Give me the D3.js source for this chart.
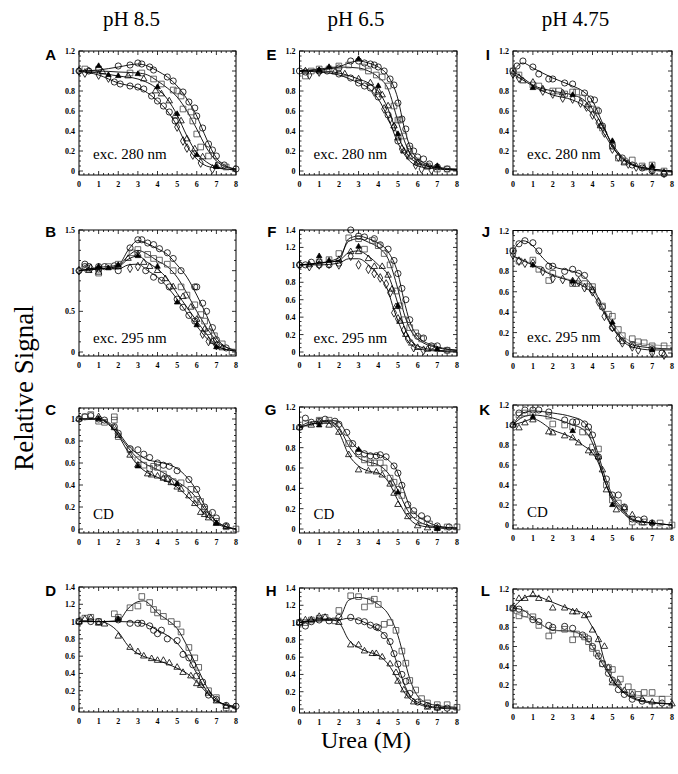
<!DOCTYPE html>
<html><head><meta charset="utf-8">
<script src="https://cdn.jsdelivr.net/npm/d3@7"></script>
<style>body{margin:0;background:#fff}</style>
</head><body><svg id="c" width="678" height="774"></svg>
<script>
// ---------- shared labels / ticks ----------
const panelIds = ["A","B","C","D","E","F","G","H","I","J","K","L"];
const phLabels = ["pH 8.5","pH 6.5","pH 4.75"];
const xTicks = [0,1,2,3,4,5,6,7,8];
const yTicks12 = [0,0.2,0.4,0.6,0.8,1,1.2];
const yTicks14 = [0,0.2,0.4,0.6,0.8,1,1.2,1.4];
const yTicks15 = [0,0.5,1,1.5];
const yTicks10 = [0,0.2,0.4,0.6,0.8,1];
const noteLabels = ["exc. 280 nm","exc. 295 nm","CD"];
const xTitle = "Urea (M)";
const yTitle = "Relative Signal";

// ---------- Panel A (pH 8.5, exc 280) ----------
const A_circ = [[0,1.0],[0.5,1.0],[1,1.02],[2,1.05],[2.6,1.06],[3,1.08],[3.2,1.07],[3.6,1.04],[3.8,1.01],[4.5,0.94],[4.8,0.9],[5.3,0.79],[5.6,0.69],[5.9,0.63],[6.0,0.55],[6.3,0.43],[6.6,0.27],[6.8,0.21],[7.0,0.15],[7.4,0.06],[8,0.02]];
const A_circ_fit = [[0,1.0],[1,1.01],[2,1.04],[3,1.07],[3.5,1.05],[4,1.0],[4.5,0.94],[5,0.85],[5.5,0.72],[6,0.55],[6.5,0.32],[7,0.13],[7.5,0.05],[8,0.02]];
const A_sq = [[0.3,1.02],[1,1.02],[2.6,0.98],[3.2,0.98],[3.8,0.92],[4.2,0.87],[4.8,0.81],[5.0,0.8],[5.2,0.75],[5.3,0.62],[5.7,0.59],[5.8,0.5],[6.0,0.37],[6.2,0.24],[6.6,0.15],[7.1,0.06],[7.5,0.04]];
const A_sq_fit = [[0,1.0],[1,1.0],[2,0.99],[3,0.98],[3.5,0.96],[4,0.9],[4.5,0.83],[5,0.74],[5.5,0.6],[6,0.42],[6.5,0.23],[7,0.1],[7.5,0.04],[8,0.02]];
const A_triF = [[1,1.05],[1.5,0.96],[2,0.95],[3,0.97],[4,0.84],[5,0.57],[6,0.16],[7,0.04]];
const A_tri = [[0.5,1.0],[1.2,0.99],[2.5,0.95],[3.3,0.92],[3.9,0.8],[4.2,0.77],[4.6,0.7],[4.9,0.55],[5.2,0.5],[5.5,0.32],[5.9,0.22],[6.3,0.14],[7.0,0.05]];
const A_tri_fit = [[0,1.0],[1,0.98],[2,0.95],[3,0.92],[4,0.82],[4.5,0.72],[5,0.56],[5.5,0.35],[6,0.18],[6.5,0.09],[7,0.04],[8,0.01]];
const A_lowC = [[1.8,0.89],[2.1,0.87],[2.6,0.85],[3.0,0.84],[3.3,0.82],[3.7,0.75],[4.0,0.7],[4.3,0.65],[4.6,0.59],[4.9,0.5]];
const A_dia = [[0,1.0],[0.3,0.98],[1,0.96],[1.5,0.93],[5.0,0.44],[5.3,0.3],[5.5,0.23],[5.8,0.16],[6.2,0.08],[6.8,0.02]];
const A_low_fit = [[0,1.0],[1,0.96],[2,0.88],[3,0.83],[3.5,0.78],[4,0.7],[4.5,0.6],[5,0.45],[5.5,0.25],[6,0.12],[6.5,0.05],[7,0.03],[8,0.01]];

// ---------- Panel B (pH 8.5, exc 295) ----------
const B_circ = [[0,1.0],[0.3,1.05],[0.5,1.05],[1,1.05],[1.3,1.05],[1.8,1.06],[2.6,1.28],[3,1.38],[3.2,1.38],[3.5,1.34],[3.8,1.32],[4.1,1.27],[4.5,1.22],[4.8,1.15],[5.2,1.0],[5.9,0.8],[6.0,0.8],[6.3,0.6],[6.5,0.5],[6.8,0.3],[7.0,0.15],[7.5,0.05]];
const B_circ_fit = [[0,1.0],[1,1.04],[2,1.07],[2.5,1.25],[3,1.37],[3.5,1.33],[4,1.27],[4.5,1.2],[5,1.07],[5.5,0.92],[6,0.7],[6.5,0.45],[7,0.18],[7.5,0.06],[8,0.02]];
const B_sq = [[0.4,1.03],[1,0.97],[1.5,1.05],[2.0,1.08],[2.7,1.22],[3.0,1.26],[3.5,1.2],[3.8,1.15],[4.1,1.13],[4.5,1.08],[4.8,1.0],[5.2,0.8],[5.5,0.7],[5.9,0.58],[6.2,0.46],[6.4,0.38],[6.6,0.25],[6.9,0.2],[7.3,0.1],[7.8,0.0]];
const B_sq_fit = [[0,1],[1,1.02],[2,1.06],[2.5,1.18],[3,1.25],[3.5,1.2],[4,1.12],[4.5,1.05],[5,0.92],[5.5,0.72],[6,0.5],[6.5,0.3],[7,0.14],[8,0.02]];
const B_triF = [[1,1.05],[1.5,1.03],[2,1.07],[3,1.18],[4,1.05],[5,0.61],[6,0.33],[7,0.06]];
const B_tri = [[0.5,1.0],[1,0.98],[2,1.05],[2.5,1.15],[3,1.2],[3.3,1.1],[3.6,1.05],[4.0,1.0],[4.4,0.9],[4.8,0.8],[5.3,0.68],[5.7,0.55],[6,0.4],[6.4,0.28],[6.8,0.13],[7.3,0.05]];
const B_tri_fit = [[0,1],[1,1.02],[2,1.05],[2.5,1.14],[3,1.18],[3.5,1.1],[4,1.02],[4.5,0.9],[5,0.72],[5.5,0.55],[6,0.38],[6.5,0.22],[7,0.08],[8,0.01]];
const B_lowC = [[0.3,1.08],[1,1.02],[2,1.0],[3.4,1.0],[3.8,0.92],[4.2,0.88],[4.6,0.8],[5,0.65],[5.3,0.55],[5.6,0.45],[5.9,0.38]];
const B_dia = [[0,1.0],[0.6,1.03],[2.6,1.03],[3.0,1.05],[6.3,0.22],[6.6,0.13],[7.0,0.08]];
const B_low_fit = [[0,1],[1,1.03],[2,1.02],[2.5,1.07],[3,1.08],[3.5,1.0],[4,0.92],[4.5,0.8],[5,0.65],[5.5,0.48],[6,0.32],[6.5,0.17],[7,0.07],[8,0.01]];

// ---------- Panel C (pH 8.5, CD) ----------
const C_circ = [[0,1],[0.3,1.02],[0.6,1.03],[1,1.0],[1.3,0.99],[1.8,0.93],[2,0.87],[2.6,0.73],[3,0.72],[3.3,0.68],[3.6,0.65],[4,0.6],[4.3,0.58],[4.6,0.57],[5,0.53],[5.6,0.45],[6,0.36],[6.4,0.2],[6.8,0.15],[7,0.1],[7.5,0.03]];
const C_circ_fit = [[0,1],[1,1.0],[1.5,0.97],[2,0.88],[2.5,0.76],[3,0.68],[3.5,0.63],[4,0.61],[4.5,0.59],[5,0.55],[5.5,0.47],[6,0.35],[6.5,0.18],[7,0.07],[7.5,0.02],[8,0]];
const C_sq = [[0.3,1.02],[0.6,1.04],[1,0.98],[1.3,0.97],[1.8,1.02],[1.8,0.99],[2,0.84],[2.6,0.72],[3,0.63],[3.3,0.58],[3.6,0.55],[3.8,0.57],[4,0.56],[4.3,0.5],[4.5,0.46],[4.8,0.43],[5.2,0.42],[5.7,0.36],[6,0.27],[6.2,0.25],[6.4,0.18],[6.6,0.13],[7,0.07],[7.5,0.02],[8,0.0]];
const C_sq_fit = [[0,1],[1,1.0],[1.5,0.96],[2,0.86],[2.5,0.74],[3,0.64],[3.5,0.58],[4,0.54],[4.5,0.49],[5,0.43],[5.5,0.37],[6,0.28],[6.5,0.16],[7,0.07],[8,0]];
const C_triF = [[1,1.0],[3,0.57],[5,0.41],[7,0.05]];
const C_tri = [[0,1],[1,1.02],[1.8,0.92],[2,0.85],[2.6,0.67],[3,0.58],[3.5,0.5],[3.7,0.49],[4,0.48],[4.3,0.46],[4.5,0.45],[4.7,0.42],[5,0.38],[5.2,0.36],[5.6,0.3],[5.9,0.23],[6.2,0.15],[6.4,0.13],[6.6,0.1],[7,0.05],[7.5,0.02]];
const C_tri_fit = [[0,1],[1,1.0],[1.5,0.95],[2,0.85],[2.5,0.7],[3,0.58],[3.5,0.51],[4,0.47],[4.5,0.43],[5,0.38],[5.5,0.3],[6,0.21],[6.5,0.12],[7,0.05],[8,0]];

// ---------- Panel D (pH 8.5) ----------
const D_sq = [[0,1],[0.3,1.04],[0.6,1.05],[1,1.0],[1.8,1.09],[2.0,1.05],[2.6,1.16],[3.0,1.18],[3.2,1.29],[3.6,1.22],[3.8,1.14],[4,1.1],[4.3,1.06],[4.7,1.0],[5,0.97],[5.2,0.88],[5.6,0.7],[5.9,0.58],[6.1,0.47],[6.6,0.2],[7,0.12],[7.5,0.0]];
const D_sq_fit = [[0,1],[1,1.0],[2,1.01],[2.5,1.15],[3,1.23],[3.3,1.24],[3.6,1.2],[4,1.1],[4.5,1.02],[5,0.92],[5.5,0.72],[6,0.48],[6.5,0.25],[7,0.1],[7.5,0.03],[8,0]];
const D_circ = [[0,1],[0.6,1.0],[1,1.0],[2,1.02],[2.6,0.98],[3,0.98],[3.2,0.98],[3.6,0.95],[3.8,0.9],[4,0.86],[4.2,0.9],[4.5,0.8],[5,0.78],[5.3,0.62],[5.6,0.58],[5.8,0.5],[6,0.37],[6.3,0.3],[6.6,0.15],[7,0.1],[7.5,0.03],[8,0.02]];
const D_circ_fit = [[0,1],[1,1.0],[2,1.0],[3,0.99],[3.5,0.96],[4,0.9],[4.5,0.84],[5,0.75],[5.5,0.6],[6,0.4],[6.5,0.2],[7,0.08],[8,0.02]];
const D_triF = [[2,1.03]];
const D_tri = [[0,1],[0.3,1.03],[0.6,1.04],[1,0.98],[1.3,0.97],[2,0.83],[2.6,0.7],[3,0.65],[3.3,0.6],[3.7,0.57],[4,0.55],[4.3,0.55],[4.6,0.52],[5,0.47],[5.3,0.41],[5.7,0.37],[6,0.28],[6.2,0.26],[6.6,0.17],[7,0.08],[7.5,0.02]];
const D_tri_fit = [[0,1],[1,1.0],[1.5,0.97],[2,0.88],[2.5,0.72],[3,0.63],[3.5,0.58],[4,0.55],[4.5,0.51],[5,0.46],[5.5,0.4],[6,0.3],[6.5,0.18],[7,0.08],[8,0.01]];

// ---------- Panel E (pH 6.5, exc 280) ----------
const E_circ = [[0,1.0],[0.3,0.99],[1,1.0],[1.4,1.0],[2,1.03],[2.6,1.1],[3.0,1.1],[3.3,1.08],[3.6,1.07],[3.8,1.06],[4.0,1.04],[4.3,1.0],[4.6,0.92],[4.8,0.86],[5.0,0.68],[5.2,0.52],[5.4,0.42],[5.6,0.25],[5.8,0.2],[6.0,0.14],[6.3,0.12],[6.6,0.07],[7.0,0.04],[7.5,0.02]];
const E_circ_fit = [[0,1],[1,1.01],[2,1.04],[2.5,1.08],[3,1.1],[3.5,1.08],[4,1.04],[4.5,0.95],[5,0.72],[5.3,0.45],[5.6,0.25],[6,0.12],[7,0.04],[8,0.02]];
const E_sq = [[0.3,0.95],[0.6,1.0],[1,1.02],[1.5,1.02],[2,1.05],[2.5,1.06],[3.2,1.04],[3.5,1.0],[3.9,0.96],[4.2,0.94],[4.5,0.85],[4.8,0.65],[5,0.51],[5.1,0.51],[5.3,0.35],[5.6,0.22],[6.0,0.1],[6.5,0.05],[7,0.02],[7.5,0.02]];
const E_sq_fit = [[0,1],[1,1.02],[2,1.04],[3,1.03],[3.5,1.0],[4,0.94],[4.5,0.82],[5,0.5],[5.5,0.22],[6,0.1],[7,0.03],[8,0.01]];
const E_triF = [[1,1.01],[1.5,1.04],[3,1.12],[4,0.85],[5,0.37],[7,0.05]];
const E_tri = [[0.3,1.0],[1,1.0],[1.8,0.99],[2.3,0.97],[3.0,0.92],[3.6,0.88],[4.0,0.8],[4.2,0.76],[4.5,0.65],[4.8,0.45],[5,0.33],[5.3,0.2],[5.6,0.14],[6,0.08],[6.5,0.04]];
const E_tri_fit = [[0,1],[1,1.0],[2,0.98],[3,0.92],[3.5,0.88],[4,0.8],[4.5,0.62],[5,0.35],[5.5,0.16],[6,0.08],[7,0.03],[8,0.01]];
const E_lowC = [[2,0.97],[2.6,0.93],[3.0,0.88],[3.3,0.85],[3.6,0.83],[4.0,0.74],[4.5,0.56],[5.0,0.3]];
const E_dia = [[0.5,0.96],[1,0.99],[3.8,0.79],[4.3,0.62],[4.6,0.52],[4.8,0.44],[5.2,0.22],[5.5,0.17],[5.9,0.06],[6.2,0.02],[6.7,0.01]];
const E_low_fit = [[0,1],[1,0.99],[2,0.96],[3,0.88],[3.5,0.83],[4,0.72],[4.5,0.53],[5,0.28],[5.5,0.12],[6,0.05],[7,0.02],[8,0.01]];

// ---------- Panel F (pH 6.5, exc 295) ----------
const F_circ = [[0,1],[0.3,1.0],[0.6,1.03],[1,1.0],[1.5,1.0],[2,1.02],[2.6,1.4],[3,1.33],[3.3,1.32],[3.8,1.3],[4.1,1.23],[4.5,1.18],[4.8,1.05],[5,0.9],[5.2,0.73],[5.4,0.6],[5.6,0.37],[6,0.18],[6.3,0.16],[6.7,0.07],[7.0,0.07],[7.5,0.02]];
const F_circ_fit = [[0,1],[1,1.02],[2,1.05],[2.5,1.3],[3,1.33],[3.5,1.3],[4,1.25],[4.5,1.15],[5,0.9],[5.3,0.6],[5.6,0.35],[6,0.18],[6.5,0.1],[7,0.06],[8,0.02]];
const F_sq = [[1,1.03],[1.5,1.06],[2.0,1.13],[2.5,1.31],[3.0,1.3],[3.3,1.18],[3.7,1.28],[4.0,1.22],[4.3,1.13],[4.6,1.0],[4.9,0.7],[5.1,0.53],[5.3,0.37],[5.6,0.28],[5.9,0.22],[6.2,0.15],[6.8,0.06],[7.5,0.02]];
const F_sq_fit = [[0,1],[1,1.02],[2,1.08],[2.5,1.27],[3,1.3],[3.5,1.26],[4,1.2],[4.5,1.07],[5,0.72],[5.3,0.45],[5.6,0.27],[6,0.15],[7,0.05],[8,0.02]];
const F_triF = [[1,1.1],[1.5,1.05],[3,1.21],[5,0.53],[7,0.03]];
const F_tri = [[0.5,1.0],[1,1.05],[2,1.06],[2.6,1.15],[3,1.15],[3.5,1.07],[3.8,0.98],[4.2,0.98],[4.5,0.88],[4.7,0.72],[4.9,0.52],[5.1,0.35],[5.4,0.2],[5.7,0.1],[6,0.05],[6.5,0.03]];
const F_tri_fit = [[0,1],[1,1.02],[2,1.05],[2.5,1.14],[3,1.16],[3.5,1.1],[4,1.0],[4.5,0.88],[5,0.55],[5.3,0.3],[5.6,0.15],[6,0.07],[7,0.02],[8,0.01]];
const F_dia = [[0,1],[0.5,0.98],[1,1.0],[1.5,1.01],[2,1.0],[2.6,1.1],[3,1.0],[3.5,0.95],[3.8,0.9],[4.1,0.85],[4.4,0.78],[4.6,0.68],[4.8,0.45],[5.0,0.38],[5.3,0.25],[5.5,0.15],[5.8,0.05],[6.3,0.02]];
const F_dia_fit = [[0,1],[1,1.0],[2,1.02],[2.5,1.07],[3,1.07],[3.5,1.0],[4,0.88],[4.5,0.7],[4.8,0.48],[5,0.36],[5.3,0.2],[5.6,0.1],[6,0.04],[7,0.01],[8,0.0]];

// ---------- Panel G (pH 6.5, CD) ----------
const G_circ = [[0,1],[0.3,1.09],[0.6,1.05],[1,1.06],[1.3,1.08],[1.8,1.06],[2,1.03],[2.4,0.95],[2.7,0.84],[3,0.76],[3.3,0.74],[3.6,0.72],[3.9,0.72],[4.1,0.73],[4.4,0.71],[4.8,0.62],[5,0.55],[5.2,0.43],[5.5,0.24],[5.8,0.18],[6.2,0.13],[6.5,0.1],[7,0.03],[7.6,0.02]];
const G_circ_fit = [[0,1],[0.5,1.05],[1,1.06],[1.5,1.07],[2,1.05],[2.5,0.9],[3,0.78],[3.5,0.74],[4,0.73],[4.5,0.68],[5,0.55],[5.3,0.38],[5.6,0.22],[6,0.13],[6.5,0.07],[7,0.03],[8,0.01]];
const G_sq = [[0.3,1.04],[1,1.07],[1.5,1.07],[1.8,1.04],[2.5,0.84],[3,0.74],[3.3,0.68],[3.6,0.65],[3.8,0.65],[4.1,0.65],[4.3,0.6],[4.6,0.5],[4.8,0.46],[5.0,0.39],[5.2,0.33],[5.5,0.18],[5.8,0.14],[6.2,0.08],[6.6,0.05],[7.5,0.02],[8,0.02]];
const G_sq_fit = [[0,1],[1,1.05],[1.5,1.06],[2,1.0],[2.5,0.82],[3,0.7],[3.5,0.66],[4,0.63],[4.5,0.55],[5,0.38],[5.5,0.18],[6,0.08],[7,0.02],[8,0.01]];
const G_triF = [[1,1.02],[3,0.78],[5,0.36],[7,0.0]];
const G_tri = [[0,1],[0.6,1.02],[1,1.05],[1.5,1.02],[2,0.95],[2.5,0.73],[3,0.58],[3.5,0.57],[3.9,0.56],[4.2,0.53],[4.6,0.44],[4.8,0.35],[5,0.24],[5.5,0.12],[6,0.03],[6.5,0.01],[7,0.01]];
const G_tri_fit = [[0,1],[1,1.04],[1.5,1.04],[2,0.95],[2.5,0.73],[3,0.62],[3.5,0.57],[4,0.55],[4.5,0.47],[5,0.28],[5.5,0.12],[6,0.04],[7,0.01],[8,0]];

// ---------- Panel H (pH 6.5) ----------
const H_sq = [[0,1],[0.3,1.0],[0.6,1.03],[1,1.05],[1.3,1.06],[1.8,1.02],[2.0,1.14],[2.6,1.31],[3,1.3],[3.3,1.18],[3.6,1.25],[3.8,1.27],[4.0,1.21],[4.3,0.98],[4.6,1.0],[4.9,0.91],[5.2,0.67],[5.4,0.53],[5.6,0.33],[5.9,0.22],[6.2,0.12],[6.5,0.07],[7,0.05],[7.5,0.05],[8,0.02]];
const H_sq_fit = [[0,1],[1,1.03],[2,1.05],[2.5,1.26],[3,1.29],[3.5,1.27],[4,1.21],[4.5,1.1],[5,0.85],[5.3,0.6],[5.6,0.35],[6,0.15],[6.5,0.07],[7,0.04],[8,0.02]];
const H_circ = [[0,1],[0.3,0.96],[0.6,1.01],[1,1.03],[1.5,1.02],[2,1.06],[2.6,1.06],[3,1.02],[3.3,1.01],[3.6,0.97],[3.9,0.95],[4,0.94],[4.3,0.85],[4.6,0.78],[4.8,0.64],[5,0.52],[5.2,0.4],[5.4,0.32],[5.6,0.18],[6,0.08],[6.5,0.04],[7,0.02],[7.5,0.01]];
const H_circ_fit = [[0,1],[1,1.02],[2,1.03],[2.5,1.05],[3,1.03],[3.5,0.98],[4,0.92],[4.5,0.8],[5,0.5],[5.3,0.3],[5.6,0.16],[6,0.08],[7,0.02],[8,0.01]];
const H_tri = [[0,1],[0.3,1.03],[0.6,1.03],[1,1.07],[1.3,1.06],[2,1.0],[2.6,0.74],[3,0.74],[3.3,0.67],[3.7,0.64],[3.9,0.64],[4.2,0.6],[4.6,0.52],[4.9,0.42],[5,0.32],[5.3,0.22],[5.5,0.15],[5.8,0.08],[6.5,0.02],[7,0.01]];
const H_tri_fit = [[0,1],[1,1.04],[1.5,1.04],[2,1.0],[2.5,0.8],[3,0.71],[3.5,0.66],[4,0.62],[4.5,0.52],[5,0.33],[5.3,0.2],[5.6,0.12],[6,0.06],[7,0.01],[8,0]];

// ---------- Panel I (pH 4.75, exc 280) ----------
const I_circ = [[0,1.0],[0.2,1.05],[0.5,1.1],[1,1.04],[1.3,0.97],[1.8,0.92],[2,0.92],[2.6,0.88],[3,0.87],[3.6,0.78],[3.9,0.72],[4.1,0.71],[4.3,0.6],[4.5,0.45],[5,0.25],[5.5,0.13],[6,0.06],[6.5,0.03],[7.0,0.0],[7.6,-0.03]];
const I_circ_fit = [[0,1.0],[0.5,1.08],[1,1.03],[2,0.93],[3,0.85],[3.5,0.8],[4,0.7],[4.5,0.48],[5,0.25],[5.5,0.13],[6,0.06],[7,0.02],[8,0.0]];
const I_sq = [[0,1],[0.3,0.96],[1,0.86],[1.3,0.85],[2,0.8],[2.3,0.8],[2.6,0.77],[3,0.79],[3.2,0.79],[3.5,0.73],[4,0.62],[4.2,0.61],[4.5,0.43],[5,0.25],[5.3,0.13],[5.6,0.1],[6,0.11],[6.5,0.05],[7,0.06],[7.6,0.0]];
const I_sq_fit = [[0,1],[0.5,0.93],[1,0.86],[2,0.8],[3,0.76],[3.5,0.72],[4,0.62],[4.5,0.45],[5,0.27],[5.5,0.14],[6,0.07],[7,0.02],[8,0.0]];
const I_triF = [[1,0.83],[3,0.76],[5,0.3],[7,0.05]];
const I_tri = [[0.5,0.9],[1.5,0.82],[2.5,0.78],[3.8,0.66],[4.4,0.45],[5.6,0.08],[6.6,0.03]];
const I_dia = [[0,0.97],[0.3,0.93],[1,0.88],[1.5,0.8],[2,0.77],[2.5,0.73],[3,0.72],[3.4,0.68],[3.7,0.64],[4,0.56],[4.3,0.48],[4.6,0.38],[5,0.22],[5.3,0.14],[5.8,0.07],[6.2,0.04],[7,0.01],[7.6,-0.02]];
const I_dia_fit = [[0,0.97],[0.5,0.91],[1,0.85],[2,0.76],[3,0.71],[3.5,0.66],[4,0.56],[4.5,0.4],[5,0.24],[5.5,0.12],[6,0.06],[7,0.01],[8,-0.01]];

// ---------- Panel J (pH 4.75, exc 295) ----------
const J_circ = [[0,1.0],[0.3,1.07],[0.6,1.1],[1,1.08],[1.3,1.0],[1.8,0.85],[2,0.85],[2.6,0.8],[3.0,0.82],[3.3,0.78],[3.6,0.76],[4,0.62],[4.5,0.45],[5,0.25],[5.5,0.12],[6,0.08],[7,0.04],[7.5,0.0]];
const J_circ_fit = [[0,1.0],[0.5,1.1],[1,1.05],[1.5,0.93],[2,0.85],[3,0.8],[3.5,0.76],[4,0.65],[4.5,0.45],[5,0.26],[5.5,0.14],[6,0.08],[7,0.05],[8,0.04]];
const J_sq = [[0,1.0],[0.3,0.9],[1,0.91],[1.3,0.82],[1.8,0.71],[2,0.78],[3,0.68],[3.2,0.68],[3.6,0.68],[3.8,0.65],[4,0.65],[4.5,0.46],[4.8,0.38],[5,0.36],[5.3,0.23],[5.5,0.17],[6,0.14],[6.3,0.11],[6.6,0.1],[7,0.07],[7.6,0.07]];
const J_sq_fit = [[0,0.95],[1,0.87],[2,0.77],[3,0.71],[3.5,0.68],[4,0.62],[4.5,0.45],[5,0.3],[5.5,0.17],[6,0.11],[7,0.08],[8,0.07]];
const J_triF = [[1,0.86],[3,0.7],[5,0.3],[7,0.03]];
const J_dia = [[0,0.96],[0.3,0.9],[0.6,0.88],[1,0.88],[1.5,0.8],[2,0.73],[2.5,0.72],[3,0.7],[3.3,0.7],[3.6,0.64],[4,0.6],[4.3,0.5],[4.6,0.36],[5,0.25],[5.3,0.15],[5.5,0.1],[6,0.06],[6.3,0.03],[7,0.0],[7.6,-0.02]];
const J_dia_fit = [[0,0.95],[1,0.86],[2,0.76],[3,0.7],[3.5,0.66],[4,0.58],[4.5,0.42],[5,0.25],[5.5,0.12],[6,0.06],[7,0.03],[8,0.03]];

// ---------- Panel K (pH 4.75, CD) ----------
const K_circ = [[0,1],[0.3,1.12],[0.6,1.15],[1,1.15],[1.3,1.15],[1.8,1.13],[2.6,1.05],[3,1.03],[3.2,1.03],[3.6,1.01],[3.8,0.98],[4,0.9],[4.3,0.68],[4.7,0.46],[5,0.3],[5.3,0.3],[5.6,0.18],[6,0.06],[6.3,0.05],[6.6,0.06],[7,0.02]];
const K_circ_fit = [[0,1],[0.5,1.12],[1,1.14],[2,1.12],[3,1.08],[3.5,1.04],[4,0.88],[4.3,0.7],[4.6,0.5],[5,0.3],[5.5,0.17],[6,0.06],[7,0.02],[8,0]];
const K_sq = [[0.3,1.1],[0.6,1.12],[1,1.12],[1.8,1.09],[2,1.01],[2.6,1.0],[3,0.98],[3.5,0.93],[3.8,0.93],[4,0.78],[4.3,0.76],[4.7,0.4],[5.0,0.25],[5.3,0.22],[5.6,0.16],[6,0.03],[6.6,0.03],[7.4,0.02],[8,0.0]];
const K_sq_fit = [[0,1],[0.5,1.08],[1,1.1],[2,1.07],[3,1.0],[3.5,0.96],[4,0.82],[4.3,0.65],[4.6,0.45],[5,0.27],[5.5,0.15],[6,0.05],[7,0.02],[8,0]];
const K_triF = [[1,1.08],[3,0.94],[5,0.2],[7,0.02]];
const K_tri = [[0,1],[0.3,0.97],[0.6,1.02],[1,1.05],[1.8,0.93],[2,0.92],[2.6,0.89],[3,0.87],[3.3,0.82],[3.8,0.74],[4,0.72],[4.3,0.68],[4.5,0.55],[4.7,0.35],[5.2,0.15],[5.6,0.17],[6,0.1],[6.5,0.02]];
const K_tri_fit = [[0,1],[0.5,1.03],[1,1.06],[2,0.95],[3,0.87],[3.5,0.8],[4,0.72],[4.3,0.62],[4.6,0.45],[5,0.25],[5.5,0.13],[6,0.05],[7,0.02],[8,0]];

// ---------- Panel L (pH 4.75) ----------
const L_tri = [[0,1],[0.3,1.1],[0.6,1.1],[1,1.14],[1.3,1.1],[1.8,1.09],[2,1.0],[2.6,1.0],[3,0.96],[3.2,0.96],[3.6,0.92],[3.8,0.93],[4,0.77],[4.3,0.67],[4.6,0.6],[4.8,0.38],[5,0.22],[5.3,0.22],[5.6,0.14],[6,0.1],[6.5,0.05],[7,0.02],[8,0.0]];
const L_tri_fit = [[0,1],[0.5,1.1],[1,1.13],[2,1.06],[3,0.98],[3.5,0.95],[4,0.8],[4.3,0.68],[4.6,0.45],[5,0.25],[5.5,0.14],[6,0.07],[7,0.02],[8,0]];
const L_circ = [[0,1],[0.3,0.99],[1,0.88],[1.3,0.86],[1.8,0.82],[2,0.8],[2.6,0.81],[3,0.79],[3.5,0.72],[3.8,0.68],[4,0.6],[4.3,0.5],[4.5,0.42],[4.8,0.32],[5,0.25],[5.3,0.15],[5.6,0.1],[6,0.05],[6.5,0.03],[7.5,0.01]];
const L_circ_fit = [[0,1],[0.5,0.98],[1,0.9],[1.5,0.82],[2,0.77],[3,0.76],[3.5,0.71],[4,0.6],[4.5,0.42],[5,0.26],[5.5,0.13],[6,0.06],[7,0.01],[8,0]];
const L_sq = [[0,1],[0.3,0.92],[0.6,0.94],[1,0.91],[1.3,0.82],[1.8,0.71],[2,0.77],[2.6,0.78],[3,0.67],[3.2,0.73],[3.6,0.7],[3.8,0.65],[4,0.58],[4.2,0.53],[4.5,0.42],[4.8,0.38],[5,0.36],[5.2,0.22],[5.4,0.26],[5.8,0.18],[6,0.12],[6.3,0.1],[6.6,0.12],[7,0.12],[7.5,0.05]];
const L_sq_fit = [[0,0.95],[1,0.88],[2,0.77],[3,0.75],[3.5,0.72],[4,0.6],[4.5,0.45],[5,0.28],[5.5,0.16],[6,0.1],[7,0.08],[8,0.08]];

// ---------- layout ----------
const colLeft = [79, 299.5, 513];
const colRight = [236, 457, 672];
const letterY = [60, 237, 415, 596];
const headerX = [131.5, 356, 575.5];

const S = (pts, shape) => ({pts, shape});
const panels = [
 {id:"A", col:0, row:0, top:51, bottom:175, yMax:1.2, ticks:yTicks12, note:0, noteY:158.5,
  fits:[[A_circ_fit,"#000"],[A_sq_fit,"#000"],[A_tri_fit,"#000"],[A_low_fit,"#000"]],
  series:[S(A_circ,"circle"),S(A_sq,"square"),S(A_tri,"triangle"),S(A_lowC,"circle"),S(A_dia,"diamond"),S(A_triF,"triF")]},
 {id:"B", col:0, row:1, top:230, bottom:356, yMax:1.5, ticks:yTicks15, note:1, noteY:343,
  fits:[[B_circ_fit,"#000"],[B_sq_fit,"#000"],[B_tri_fit,"#000"],[B_low_fit,"#000"]],
  series:[S(B_circ,"circle"),S(B_sq,"square"),S(B_tri,"triangle"),S(B_lowC,"circle"),S(B_dia,"diamond"),S(B_triF,"triF")]},
 {id:"C", col:0, row:2, top:408, bottom:533, yMax:1.1, ticks:yTicks10, note:2, noteY:519,
  fits:[[C_circ_fit,"#000"],[C_sq_fit,"#000"],[C_tri_fit,"#000"]],
  series:[S(C_circ,"circle"),S(C_sq,"square"),S(C_tri,"triangle"),S(C_triF,"triF")]},
 {id:"D", col:0, row:3, top:587, bottom:712, yMax:1.4, ticks:yTicks14, note:-1,
  fits:[[D_sq_fit,"#000"],[D_circ_fit,"#000"],[D_tri_fit,"#000"]],
  series:[S(D_sq,"square"),S(D_circ,"circle"),S(D_tri,"triangle"),S(D_triF,"triF")]},
 {id:"E", col:1, row:0, top:51, bottom:175, yMax:1.2, ticks:yTicks12, note:0, noteY:158.5,
  fits:[[E_circ_fit,"#000"],[E_sq_fit,"#000"],[E_tri_fit,"#000"],[E_low_fit,"#000"]],
  series:[S(E_circ,"circle"),S(E_sq,"square"),S(E_tri,"triangle"),S(E_lowC,"circle"),S(E_dia,"diamond"),S(E_triF,"triF")]},
 {id:"F", col:1, row:1, top:230, bottom:356, yMax:1.4, ticks:yTicks14, note:1, noteY:342.5,
  fits:[[F_circ_fit,"#000"],[F_sq_fit,"#000"],[F_tri_fit,"#000"],[F_dia_fit,"#000"]],
  series:[S(F_circ,"circle"),S(F_sq,"square"),S(F_tri,"triangle"),S(F_dia,"diamond"),S(F_triF,"triF")]},
 {id:"G", col:1, row:2, top:407, bottom:533, yMax:1.2, ticks:yTicks12, note:2, noteY:519,
  fits:[[G_circ_fit,"#000"],[G_sq_fit,"#000"],[G_tri_fit,"#000"]],
  series:[S(G_circ,"circle"),S(G_sq,"square"),S(G_tri,"triangle"),S(G_triF,"triF")]},
 {id:"H", col:1, row:3, top:588, bottom:713, yMax:1.4, ticks:yTicks14, note:-1,
  fits:[[H_sq_fit,"#000"],[H_circ_fit,"#000"],[H_tri_fit,"#000"]],
  series:[S(H_sq,"square"),S(H_circ,"circle"),S(H_tri,"triangle")]},
 {id:"I", col:2, row:0, top:51, bottom:175, yMax:1.2, ticks:yTicks12, note:0, noteY:158.5,
  fits:[[I_circ_fit,"#000"],[I_sq_fit,"#000"],[I_dia_fit,"#000"]],
  series:[S(I_circ,"circle"),S(I_sq,"square"),S(I_tri,"triangle"),S(I_dia,"diamond"),S(I_triF,"triF")]},
 {id:"J", col:2, row:1, top:230.5, bottom:357, yMax:1.2, ticks:yTicks12, note:1, noteY:341.5,
  fits:[[J_circ_fit,"#000"],[J_sq_fit,"#888"],[J_dia_fit,"#000"]],
  series:[S(J_circ,"circle"),S(J_sq,"square"),S(J_dia,"diamond"),S(J_triF,"triF")]},
 {id:"K", col:2, row:2, top:405, bottom:529, yMax:1.2, ticks:yTicks12, note:2, noteY:517,
  fits:[[K_circ_fit,"#000"],[K_sq_fit,"#000"],[K_tri_fit,"#000"]],
  series:[S(K_circ,"circle"),S(K_sq,"square"),S(K_tri,"triangle"),S(K_triF,"triF")]},
 {id:"L", col:2, row:3, top:589, bottom:708, yMax:1.2, ticks:yTicks12, note:-1,
  fits:[[L_tri_fit,"#000"],[L_circ_fit,"#000"],[L_sq_fit,"#888"]],
  series:[S(L_tri,"triangle"),S(L_circ,"circle"),S(L_sq,"square")]}
];

const svg = d3.select("#c");
const serif = "'Liberation Serif','Times New Roman',serif";

// headers
svg.selectAll("text.hdr").data(phLabels).join("text").attr("class","hdr")
  .attr("x",(d,i)=>headerX[i]).attr("y",26).attr("text-anchor","middle")
  .attr("font-family",serif).attr("font-size",21).text(d=>d);

svg.append("text").attr("transform","translate(33,388) rotate(-90)")
  .attr("text-anchor","middle").attr("font-family",serif).attr("font-size",27).text(yTitle);
svg.append("text").attr("x",366).attr("y",748).attr("text-anchor","middle")
  .attr("font-family",serif).attr("font-size",24).text(xTitle);

const symSize = {circle:30, square:32, triangle:18, diamond:22, triF:13};
const symType = {circle:d3.symbolCircle, square:d3.symbolSquare, triangle:d3.symbolTriangle, diamond:d3.symbolDiamond, triF:d3.symbolTriangle};

panels.forEach(p => {
  const left = colLeft[p.col], right = colRight[p.col];
  const x = d3.scaleLinear().domain([0,8]).range([left,right]);
  const y = d3.scaleLinear().domain([0,p.yMax]).range([p.bottom-4, p.top]);
  const g = svg.append("g");
  g.append("rect").attr("x",left).attr("y",p.top).attr("width",right-left).attr("height",p.bottom-p.top)
    .attr("fill","none").attr("stroke","#000").attr("stroke-width",1);
  const xMinor = d3.range(0,8.001,0.25);
  xMinor.forEach(v=>{
    const major = Math.abs(v-Math.round(v))<1e-6;
    const L = major?4:2;
    g.append("line").attr("x1",x(v)).attr("x2",x(v)).attr("y1",p.bottom).attr("y2",p.bottom-L).attr("stroke","#000").attr("stroke-width",0.8);
    g.append("line").attr("x1",x(v)).attr("x2",x(v)).attr("y1",p.top).attr("y2",p.top+L).attr("stroke","#000").attr("stroke-width",0.8);
  });
  const step = p.ticks[1]-p.ticks[0];
  const yMinor = d3.range(0, p.yMax+1e-6, step/4);
  yMinor.forEach(v=>{
    const major = p.ticks.some(t=>Math.abs(t-v)<1e-6);
    const L = major?4:2;
    g.append("line").attr("x1",left).attr("x2",left+L).attr("y1",y(v)).attr("y2",y(v)).attr("stroke","#000").attr("stroke-width",0.8);
    g.append("line").attr("x1",right).attr("x2",right-L).attr("y1",y(v)).attr("y2",y(v)).attr("stroke","#000").attr("stroke-width",0.8);
  });
  g.selectAll("text.xt").data(xTicks).join("text").attr("class","xt")
    .attr("x",d=>x(d)).attr("y",p.bottom+12).attr("text-anchor","middle")
    .attr("font-family",serif).attr("font-size",8).attr("font-weight","bold").text(d=>String(d));
  g.selectAll("text.yt").data(p.ticks).join("text").attr("class","yt")
    .attr("x",left-4).attr("y",d=>y(d)+3).attr("text-anchor","end")
    .attr("font-family",serif).attr("font-size",8).attr("font-weight","bold").text(d=>String(d));
  g.append("text").attr("x",left-23).attr("y",letterY[p.row]).attr("text-anchor","end")
    .attr("font-family","'Liberation Sans',Arial,sans-serif").attr("font-weight","bold").attr("font-size",15).text(p.id);
  if (p.note>=0) g.append("text").attr("x",left+14).attr("y",p.noteY)
    .attr("font-family",serif).attr("font-size",15).text(noteLabels[p.note]);
  const line = d3.line().x(d=>x(d[0])).y(d=>y(d[1])).curve(d3.curveMonotoneX);
  p.fits.forEach(([pts,col])=>{
    g.append("path").attr("d",line(pts)).attr("fill","none").attr("stroke",col).attr("stroke-width",0.9);
  });
  p.series.forEach(s=>{
    const sym = d3.symbol().type(symType[s.shape]).size(symSize[s.shape]);
    g.selectAll(null).data(s.pts).join("path")
      .attr("transform",d=>`translate(${x(d[0])},${y(d[1])})`)
      .attr("d",sym)
      .attr("fill", s.shape==="triF" ? "#000" : "none")
      .attr("stroke", s.shape==="square" ? "#444" : "#000")
      .attr("stroke-width",0.8);
  });
});
</script>
</body></html>
